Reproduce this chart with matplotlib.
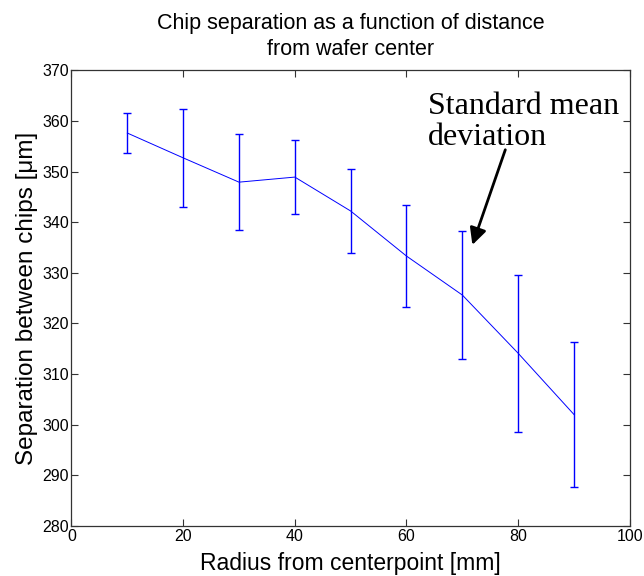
import numpy as np
import matplotlib
matplotlib.use("Agg")
import matplotlib.pyplot as plt

plt.rcParams['font.family'] = ['Liberation Sans', 'DejaVu Sans']

radius = [10, 20, 30, 40, 50, 60, 70, 80, 90]
separation = [357.6, 352.7, 347.9, 348.9, 342.2, 333.3, 325.6, 314.1, 302.0]
std_dev = [4.0, 9.7, 9.5, 7.3, 8.2, 10.1, 12.6, 15.5, 14.4]

fig = plt.figure(figsize=(6.44, 5.76), dpi=100)
ax = fig.add_axes([0.111, 0.087, 0.867, 0.791])

ax.errorbar(radius, separation, yerr=std_dev, color='#0000ff', lw=0.7,
            elinewidth=1.0, capsize=3, capthick=1.0)

ax.set_xlim(0, 100)
ax.set_ylim(280, 370)
ax.set_xticks(np.arange(0, 101, 20))
ax.set_yticks(np.arange(280, 371, 10))
ax.tick_params(direction='in', top=True, right=True, labelsize=11.5,
               length=5, width=0.8, color='#333333', pad=2)
for s in ax.spines.values():
    s.set_color('#333333')
    s.set_linewidth(0.9)

ax.set_title("Chip separation as a function of distance\nfrom wafer center",
             fontsize=15.5, pad=11, linespacing=1.3)
ax.set_xlabel("Radius from centerpoint [mm]", fontsize=16.5, labelpad=6)
ax.set_ylabel("Separation between chips [\u03bcm]", fontsize=17.5, labelpad=3)

# annotation text and arrow
ax.text(63.8, 355.2, "Standard mean\ndeviation", fontsize=23,
        family=['Liberation Serif', 'DejaVu Serif'], ha='left', va='baseline',
        linespacing=1.1)
ax.annotate("", xy=(71.8, 335.5), xytext=(77.7, 354.3),
            arrowprops=dict(arrowstyle='-|>', color='black', lw=2,
                            mutation_scale=25, shrinkA=0, shrinkB=0))

fig.savefig("out.png", dpi=100)
